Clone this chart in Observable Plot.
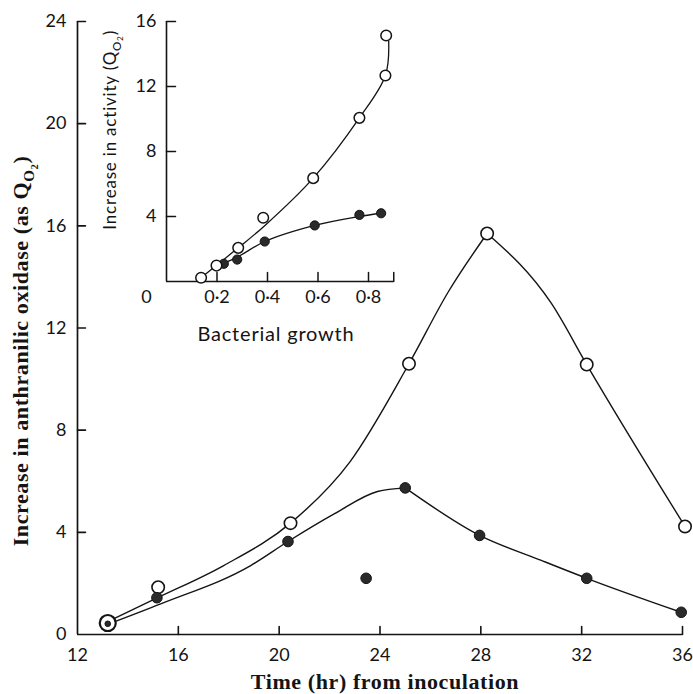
<!DOCTYPE html>
<html><head><meta charset="utf-8">
<script src="https://cdn.jsdelivr.net/npm/d3@7"></script>
<script src="https://cdn.jsdelivr.net/npm/@observablehq/plot@0.6"></script>
<style>
body{margin:0;background:#fff}
#wrap{position:relative;width:693px;height:694px;background:#fff}
#wrap svg{position:absolute;overflow:visible}
</style></head><body><div id="wrap"></div>
<script>
// ---- Main chart data (time in hr, increase in anthranilic oxidase as Q_O2) ----
const hoursOpen   = [13.2, 15.2, 20.45, 25.15, 28.25, 32.2, 36.1];
const qo2Open     = [0.45, 1.85, 4.36, 10.6, 15.7, 10.57, 4.23];
const hoursFilled = [13.2, 15.15, 20.35, 23.45, 25.0, 27.95, 32.2, 35.95];
const qo2Filled   = [0.42, 1.44, 3.64, 2.2, 5.74, 3.88, 2.2, 0.87];
// hand-drawn fitted curves (knots), rising and falling limbs
const openRiseHours   = [13.2, 15.2, 17.8, 20.45, 22.8, 25.15, 26.7, 28.25];
const openRiseQo2     = [0.5, 1.45, 2.7, 4.36, 6.75, 10.6, 13.4, 15.7];
const openFallHours   = [28.25, 30.8, 32.2, 36.1];
const openFallQo2     = [15.7, 12.96, 10.57, 4.23];
const filledRiseHours = [13.2, 15.3, 18.87, 20.35, 22.2, 23.9, 25.0];
const filledRiseQo2   = [0.4, 1.2, 2.7, 3.64, 4.73, 5.6, 5.74];
const filledFallHours = [25.0, 27.95, 30.4, 32.2, 35.95];
const filledFallQo2   = [5.74, 3.88, 2.9, 2.2, 0.87];
const mainXTicks = [12, 16, 20, 24, 28, 32, 36];
const mainYTicks = [0, 4, 8, 12, 16, 20, 24];

// ---- Inset data (bacterial growth vs increase in activity) ----
const growthOpen   = [0.137, 0.198, 0.284, 0.383, 0.581, 0.764, 0.867, 0.870];
const actOpen      = [0.23, 0.98, 2.07, 3.92, 6.36, 10.07, 12.68, 15.14];
const growthFilled = [0.227, 0.28, 0.389, 0.587, 0.764, 0.85];
const actFilled    = [1.09, 1.35, 2.46, 3.45, 4.1, 4.2];
const curveOpenGrowth   = [0.137, 0.198, 0.284, 0.39, 0.581, 0.764, 0.867, 0.88];
const curveOpenAct      = [0.23, 1.0, 2.07, 3.45, 6.36, 10.07, 12.68, 14.8];
const curveFilledGrowth = [0.2, 0.28, 0.389, 0.587, 0.764, 0.85];
const curveFilledAct    = [0.95, 1.5, 2.46, 3.45, 4.0, 4.2];
const insetXTicks = [0.2, 0.4, 0.6, 0.8];
const insetXTickMarks = [0.2, 0.4, 0.6, 0.8, 0.9];
const insetYTicks = [4, 8, 12, 16];

const zip = (xs, ys) => xs.map((x, i) => ({x, y: ys[i]}));
const ink = "#141414";
const sans = "Lato, 'Open Sans', sans-serif";
const serif = "'Liberation Serif', 'DejaVu Serif', serif";

const openPts = zip(hoursOpen, qo2Open);
const filledPts = zip(hoursFilled, qo2Filled);
const lineOpts = {x: "x", y: "y", curve: "monotone-x", stroke: ink, strokeWidth: 1.4};

const main = Plot.plot({
  width: 693, height: 694,
  marginLeft: 77, marginRight: 11, marginTop: 21, marginBottom: 60,
  style: {background: "transparent", color: ink, fontFamily: sans},
  x: {domain: [12, 36]},
  y: {domain: [0, 24]},
  marks: [
    Plot.ruleY([0], {stroke: ink, strokeWidth: 1.7}),
    Plot.ruleX([12], {stroke: ink, strokeWidth: 1.7}),
    Plot.vector(mainXTicks.slice(1), {x: d => d, y: 0, length: 8, rotate: 0, r: 0, anchor: "start", stroke: ink, strokeWidth: 1.6}),
    Plot.vector(mainYTicks.slice(1), {x: 12, y: d => d, length: 8, rotate: 90, r: 0, anchor: "start", stroke: ink, strokeWidth: 1.6}),
    Plot.axisX({ticks: mainXTicks, tickSize: 0, tickPadding: 14, fontSize: 18, label: null, tickFormat: d => String(d)}),
    Plot.axisY({ticks: mainYTicks, tickSize: 0, tickPadding: 11, fontSize: 18, label: null, tickFormat: d => String(d)}),
    Plot.line(zip(openRiseHours, openRiseQo2), lineOpts),
    Plot.line(zip(openFallHours, openFallQo2), lineOpts),
    Plot.line(zip(filledRiseHours, filledRiseQo2), lineOpts),
    Plot.line(zip(filledFallHours, filledFallQo2), lineOpts),
    // coincident first point: large ring with small dot inside
    Plot.dot(openPts.slice(0, 1), {x: "x", y: "y", r: 8, fill: "white", stroke: ink, strokeWidth: 2.2}),
    Plot.dot(filledPts.slice(0, 1), {x: "x", y: "y", r: 2.8, fill: "#2a2a2a", stroke: ink, strokeWidth: 1}),
    Plot.dot(openPts.slice(1), {x: "x", y: "y", r: 6.2, fill: "white", stroke: ink, strokeWidth: 1.6}),
    Plot.dot(filledPts.slice(1), {x: "x", y: "y", r: 5.3, fill: "#2a2a2a", stroke: ink, strokeWidth: 1})
  ]
});

const inset = Plot.plot({
  width: 320, height: 350,
  marginLeft: 76, marginRight: 16.75, marginTop: 21, marginBottom: 69,
  style: {background: "transparent", color: ink, fontFamily: sans},
  x: {domain: [0, 0.9]},
  y: {domain: [0, 16]},
  marks: [
    Plot.ruleY([0], {stroke: ink, strokeWidth: 1.6}),
    Plot.ruleX([0], {stroke: ink, strokeWidth: 1.6}),
    Plot.vector(insetXTickMarks, {x: d => d, y: 0, length: 9, rotate: 0, r: 0, anchor: "start", stroke: ink, strokeWidth: 1.5}),
    Plot.vector(insetYTicks, {x: 0, y: d => d, length: 9, rotate: 90, r: 0, anchor: "start", stroke: ink, strokeWidth: 1.5}),
    Plot.axisX({ticks: insetXTicks, tickSize: 0, tickPadding: 9, fontSize: 18, label: null, tickFormat: d => d3.format(".1f")(d).replace(".", "·")}),
    Plot.axisY({ticks: insetYTicks, tickSize: 0, tickPadding: 10, fontSize: 18, label: null, tickFormat: d => String(d)}),
    Plot.text([0], {x: 0, y: 0, text: () => "0", dx: -20, dy: 16, fontSize: 18}),
    Plot.line(zip(curveOpenGrowth, curveOpenAct), {x: "x", y: "y", curve: "catmull-rom", stroke: ink, strokeWidth: 1.3}),
    Plot.line(zip(curveFilledGrowth, curveFilledAct), {x: "x", y: "y", curve: "catmull-rom", stroke: ink, strokeWidth: 1.3}),
    Plot.dot(zip(growthFilled, actFilled), {x: "x", y: "y", r: 4.6, fill: "#2a2a2a", stroke: ink, strokeWidth: 1}),
    Plot.dot(zip(growthOpen, actOpen), {x: "x", y: "y", r: 5.3, fill: "white", stroke: ink, strokeWidth: 1.5})
  ]
});

const wrap = document.getElementById("wrap");
main.style.left = "0px"; main.style.top = "0px";
inset.style.left = "90px"; inset.style.top = "0px";
wrap.appendChild(main);
wrap.appendChild(inset);

function addQ(t, size) {
  t.append("tspan").text("Q");
  t.append("tspan").attr("dy", size * 0.28).attr("font-size", size * 0.68).text("O");
  t.append("tspan").attr("dy", size * 0.16).attr("font-size", size * 0.48).text("2");
  t.append("tspan").attr("dy", -size * 0.44).attr("font-size", size).text(")");
}

// main axis titles
const ms = d3.select(main);
ms.append("text")
  .attr("x", 385).attr("y", 689)
  .attr("text-anchor", "middle")
  .attr("font-family", serif).attr("font-weight", "bold").attr("font-size", 22)
  .attr("letter-spacing", 0.6).attr("fill", ink)
  .text("Time (hr) from inoculation");
const yt = ms.append("text")
  .attr("transform", "translate(28,351) rotate(-90)")
  .attr("text-anchor", "middle")
  .attr("font-family", serif).attr("font-weight", "bold").attr("font-size", 22)
  .attr("letter-spacing", 0.6).attr("fill", ink);
yt.append("tspan").text("Increase in anthranilic oxidase (as ");
addQ(yt, 22);

// inset axis titles
const is = d3.select(inset);
is.append("text")
  .attr("x", 186).attr("y", 341)
  .attr("text-anchor", "middle")
  .attr("font-family", sans).attr("font-size", 20).attr("letter-spacing", 0.8).attr("fill", ink)
  .text("Bacterial growth");
const it = is.append("text")
  .attr("transform", "translate(26,30) rotate(-90)")
  .attr("text-anchor", "end")
  .attr("font-family", sans).attr("font-size", 17).attr("letter-spacing", 0.8).attr("fill", ink);
it.append("tspan").text("Increase in activity (");
addQ(it, 17);
</script></body></html>
